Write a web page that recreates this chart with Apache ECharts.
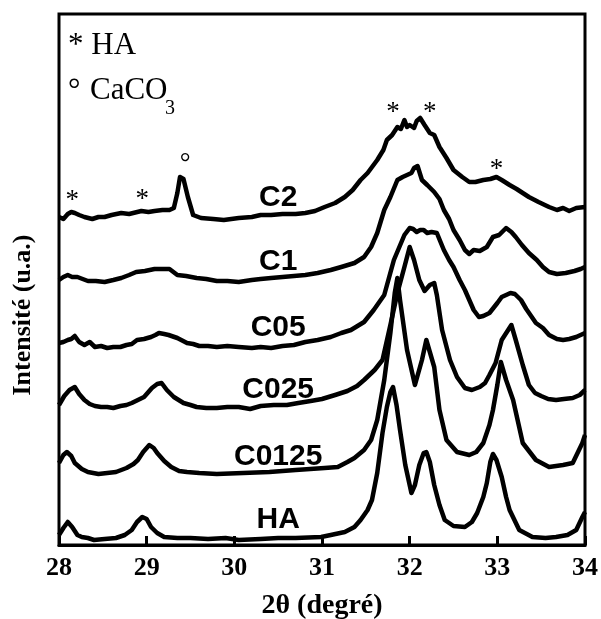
<!DOCTYPE html>
<html><head><meta charset="utf-8">
<script src="https://cdn.jsdelivr.net/npm/echarts@6/dist/echarts.min.js"></script>
<style>html,body{margin:0;padding:0;background:#fff}#c{width:601px;height:619px}</style>
</head><body><div id="c"></div>
<script>
// ---- data (2θ in degrees, intensity in arbitrary units) ----
const xTicks = [28, 29, 30, 31, 32, 33, 34];

const c2X = [28.00,28.05,28.10,28.14,28.18,28.23,28.29,28.38,28.45,28.52,28.60,28.71,28.80,28.94,29.02,29.09,29.18,29.26,29.31,29.35,29.38,29.42,29.47,29.53,29.62,29.76,29.88,30.05,30.20,30.30,30.42,30.55,30.70,30.81,30.92,31.03,31.15,31.26,31.35,31.44,31.52,31.63,31.70,31.74,31.80,31.86,31.90,31.94,31.97,32.00,32.05,32.08,32.12,32.17,32.23,32.28,32.34,32.42,32.50,32.60,32.68,32.75,32.84,32.92,32.99,33.05,33.14,33.22,33.36,33.47,33.59,33.68,33.75,33.82,33.90,34.00];
const c2Y = [328,326,331,333,332,330,328,326,328,328,330,332,331,334,333,334,335,335,337,352,368,366,348,330,327,326,325,327,328,330,330,331,331,332,334,338,342,348,355,365,372,385,395,405,410,418,416,425,418,420,417,424,427,420,412,410,398,387,375,368,363,363,365,366,368,365,360,356,348,343,338,335,337,334,337,338];

const c1X = [28.00,28.05,28.10,28.15,28.21,28.27,28.33,28.42,28.52,28.62,28.71,28.80,28.88,28.98,29.09,29.18,29.26,29.35,29.45,29.57,29.68,29.80,29.92,30.05,30.20,30.30,30.42,30.55,30.68,30.81,30.95,31.10,31.22,31.37,31.48,31.56,31.63,31.71,31.78,31.86,31.92,31.97,32.02,32.05,32.09,32.14,32.20,32.28,32.34,32.39,32.45,32.50,32.57,32.63,32.68,32.73,32.80,32.88,32.95,33.02,33.10,33.16,33.21,33.28,33.36,33.45,33.52,33.59,33.68,33.78,33.88,33.95,34.00];
const c1Y = [265,268,270,268,268,266,264,264,263,265,267,270,273,274,276,276,276,270,269,267,266,264,264,263,265,266,267,268,269,270,272,275,278,282,288,298,312,335,348,365,368,370,372,377,379,365,360,353,346,335,326,315,305,295,291,295,294,298,308,310,317,313,308,300,292,285,278,273,271,272,274,276,278];

const c05X = [28.00,28.05,28.10,28.14,28.18,28.23,28.29,28.35,28.41,28.48,28.55,28.62,28.70,28.77,28.83,28.89,28.97,29.05,29.10,29.14,29.20,29.25,29.35,29.46,29.53,29.60,29.70,29.80,29.92,30.05,30.20,30.30,30.42,30.55,30.68,30.81,30.95,31.10,31.22,31.33,31.48,31.59,31.71,31.82,31.94,32.00,32.04,32.08,32.12,32.16,32.20,32.25,32.31,32.39,32.45,32.50,32.57,32.63,32.73,32.79,32.84,32.91,33.00,33.05,33.10,33.15,33.20,33.27,33.33,33.44,33.52,33.59,33.68,33.75,33.82,33.90,34.00];
const c05Y = [202,203,205,206,209,203,200,203,198,199,197,198,198,200,201,205,206,208,210,212,211,210,207,202,201,199,199,198,199,198,197,198,197,199,200,203,205,208,212,215,223,235,250,285,310,317,316,313,315,315,312,313,312,295,285,278,265,255,235,228,229,232,242,248,250,252,251,245,236,222,217,210,206,205,206,208,212];

const c025X = [28.00,28.06,28.12,28.18,28.23,28.29,28.35,28.41,28.48,28.55,28.62,28.70,28.77,28.83,28.90,28.97,29.06,29.12,29.17,29.23,29.31,29.42,29.50,29.57,29.68,29.80,29.92,30.05,30.18,30.30,30.45,30.60,30.73,30.87,31.00,31.15,31.29,31.40,31.48,31.60,31.69,31.78,31.86,31.94,32.00,32.05,32.11,32.17,32.23,32.28,32.31,32.37,32.46,32.54,32.63,32.71,32.80,32.86,32.91,32.98,33.05,33.16,33.21,33.29,33.36,33.43,33.50,33.58,33.67,33.76,33.86,33.94,34.00];
const c025Y = [140,149,155,158,151,145,141,139,138,138,137,139,140,142,145,148,157,161,162,155,148,142,140,138,137,137,138,138,136,139,140,140,142,144,146,150,154,159,165,175,185,220,252,278,298,285,265,254,260,262,250,215,185,168,157,155,158,162,170,182,205,220,205,180,160,152,149,146,145,146,147,150,155];

const c0125X = [28.00,28.05,28.09,28.14,28.18,28.26,28.33,28.45,28.55,28.65,28.77,28.85,28.90,28.96,29.03,29.08,29.12,29.20,29.28,29.37,29.46,29.60,29.80,30.10,30.40,30.70,31.03,31.18,31.29,31.37,31.48,31.56,31.63,31.71,31.78,31.83,31.86,31.89,31.97,32.06,32.14,32.19,32.23,32.28,32.34,32.42,32.54,32.68,32.76,32.84,32.91,32.95,33.00,33.04,33.10,33.18,33.29,33.44,33.59,33.75,33.86,33.97,34.00];
const c0125Y = [82,90,93,89,82,76,73,71,72,73,77,81,85,93,100,97,92,84,78,74,73,72,71,72,73,75,77,78,83,87,95,105,125,165,212,252,267,245,195,160,185,205,193,178,135,105,93,90,93,102,120,135,160,183,165,145,102,85,78,80,82,102,110];

const haX = [28.00,28.05,28.10,28.15,28.21,28.26,28.33,28.40,28.52,28.65,28.75,28.83,28.89,28.95,29.00,29.05,29.12,29.20,29.35,29.50,29.70,29.90,30.05,30.30,30.50,30.70,30.99,31.10,31.26,31.37,31.44,31.52,31.57,31.63,31.69,31.74,31.78,31.81,31.85,31.89,31.95,32.02,32.06,32.11,32.16,32.19,32.23,32.28,32.34,32.40,32.50,32.63,32.71,32.77,32.84,32.88,32.92,32.95,32.99,33.05,33.10,33.14,33.25,33.40,33.55,33.67,33.80,33.90,33.97,34.00];
const haY = [10,17,23,18,10,8,7,5,6,7,10,15,23,28,26,18,12,8,7,7,6,7,5,6,7,7,8,10,13,18,25,35,45,72,112,138,153,158,140,115,80,52,60,80,92,93,83,60,40,25,19,18,23,32,48,62,83,91,85,68,48,35,15,8,7,8,10,15,28,33];

const curveNames = ['C2', 'C1', 'C05', 'C025', 'C0125', 'HA'];
const peakSymbols = ['*', '*', '°', '*', '*', '*'];
const peakSymbolX = [28.15, 28.95, 29.44, 31.81, 32.23, 32.99];
const peakSymbolY = [344, 345, 381, 432, 432, 375];

// ---- layout (label anchor positions in data space) ----
const curveLabelX = [30.5, 30.5, 30.5, 30.5, 30.5, 30.5];
const curveLabelY = [347, 283, 217, 155, 88, 25];

const curvesX = [c2X, c1X, c05X, c025X, c0125X, haX];
const curvesY = [c2Y, c1Y, c05Y, c025Y, c0125Y, haY];

const zip = (a, b) => a.map((v, i) => [v, b[i]]);

const serif = '"Liberation Serif","Times New Roman",serif';
const sans = '"Liberation Sans",Arial,sans-serif';

const series = curvesX.map((xs, i) => ({
  type: 'line', name: curveNames[i], data: zip(xs, curvesY[i]),
  showSymbol: false, symbol: 'none', smooth: false, silent: true,
  lineStyle: { color: '#000', width: 4.5, join: 'round' }, z: 2
}));

const textSeries = (names, xs, ys, labelStyle) => ({
  type: 'scatter', silent: true, symbolSize: 0,
  itemStyle: { color: '#000', opacity: 1 },
  data: names.map((n, i) => ({ value: [xs[i], ys[i]], name: n })),
  label: Object.assign({ show: true, position: 'inside', formatter: p => p.name,
    color: '#000', opacity: 1, textBorderWidth: 0, textShadowBlur: 0 }, labelStyle),
  emphasis: { disabled: true }, z: 5
});

series.push(textSeries(curveNames, curveLabelX, curveLabelY,
  { fontFamily: sans, fontWeight: 'bold', fontSize: 30 }));
series.push(textSeries(peakSymbols, peakSymbolX, peakSymbolY,
  { fontFamily: serif, fontWeight: 'normal', fontSize: 27 }));

const chart = echarts.init(document.getElementById('c'), null, { renderer: 'canvas' });
chart.setOption({
  animation: false,
  backgroundColor: '#fff',
  grid: { left: 59, right: 12, top: 14, bottom: 74, show: true, borderColor: '#000', borderWidth: 3, backgroundColor: 'transparent' },
  xAxis: {
    type: 'value', min: xTicks[0], max: xTicks[xTicks.length - 1], interval: 1,
    axisLine: { show: true, lineStyle: { color: '#000', width: 3 } },
    axisTick: { show: true, inside: true, length: 9, lineStyle: { color: '#000', width: 3 } },
    axisLabel: { color: '#000', fontFamily: serif, fontWeight: 'bold', fontSize: 26, margin: 10 },
    splitLine: { show: false }
  },
  yAxis: {
    type: 'value', min: 0, max: 531,
    axisLine: { show: false }, axisTick: { show: false }, axisLabel: { show: false }, splitLine: { show: false }
  },
  graphic: [
    { type: 'text', x: 23, y: 315, rotation: Math.PI / 2,
      style: { text: 'Intensité (u.a.)', font: 'bold 26px ' + serif, fill: '#000', align: 'center', verticalAlign: 'middle', textAlign: 'center', textVerticalAlign: 'middle' } },
    { type: 'text', x: 322, y: 606,
      style: { text: '2θ (degré)', font: 'bold 28px ' + serif, fill: '#000', align: 'center', verticalAlign: 'middle', textAlign: 'center', textVerticalAlign: 'middle' } },
    { type: 'text', x: 68, y: 46,
      style: { text: '* HA', font: '31px ' + serif, fill: '#000', align: 'left', verticalAlign: 'middle', textAlign: 'left', textVerticalAlign: 'middle' } },
    { type: 'text', x: 68, y: 92,
      style: { text: '°', font: '31px ' + serif, fill: '#000', align: 'left', verticalAlign: 'middle', textAlign: 'left', textVerticalAlign: 'middle' } },
    { type: 'text', x: 90, y: 91,
      style: { text: 'CaCO', font: '31px ' + serif, fill: '#000', align: 'left', verticalAlign: 'middle', textAlign: 'left', textVerticalAlign: 'middle' } },
    { type: 'text', x: 165, y: 109,
      style: { text: '3', font: '20px ' + serif, fill: '#000', align: 'left', verticalAlign: 'middle', textAlign: 'left', textVerticalAlign: 'middle' } }
  ],
  series: series
});
</script>
</body></html>
